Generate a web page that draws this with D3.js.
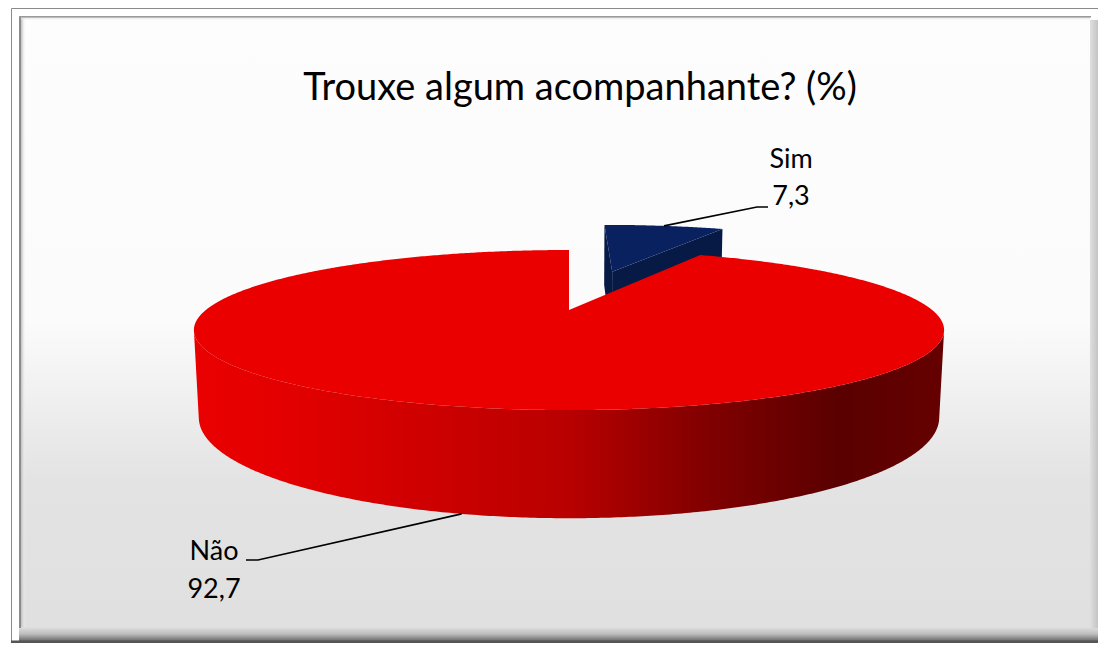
<!DOCTYPE html>
<html>
<head>
<meta charset="utf-8">
<script src="https://cdn.jsdelivr.net/npm/d3@7"></script>
<style>
  body { margin: 0; background: #fff; }
  svg { display: block; }
</style>
</head>
<body>
<div id="chart"></div>
<script>
// data
const categories = ["Sim", "Não"];
const values = [7.3, 92.7];
const valueLabels = ["7,3", "92,7"];
const explode = [0.6, 0];
const chartTitle = "Trouxe algum acompanhante? (%)";

const W = 1098, H = 646;

const svg = d3.select("#chart").append("svg")
    .attr("width", W)
    .attr("height", H);
const defs = svg.append("defs");

function vGrad(id, stops, x1, y1, x2, y2) {
    const g = defs.append("linearGradient").attr("id", id)
        .attr("gradientUnits", "userSpaceOnUse")
        .attr("x1", x1).attr("y1", y1).attr("x2", x2).attr("y2", y2);
    stops.forEach(s => g.append("stop").attr("offset", s[0]).attr("stop-color", s[1]).attr("stop-opacity", s[2] == null ? 1 : s[2]));
}

// ---- frame / background ----
vGrad("bg", [[0, "#fdfdfd"], [0.5, "#fbfbfb"], [0.76, "#e3e3e3"], [1, "#e0e0e0"]], 0, 16, 0, 628);
vGrad("bevelBottom", [[0, "#e0e0e0"], [0.5, "#bdbdbd"], [1, "#6a6a6a"]], 0, 627, 0, 641);
vGrad("bevelRight", [[0, "#e2e2e2"], [1, "#c4c4c4"]], 1089, 0, 1098, 0);
vGrad("bevelLeft", [[0, "#bcbcbc"], [1, "#fdfdfd", 0]], 21, 0, 26, 0);
vGrad("bevelTop", [[0, "#d8d8d8"], [1, "#fdfdfd", 0]], 0, 17, 0, 21);

svg.append("rect").attr("x", 19).attr("y", 16).attr("width", 1079).attr("height", 612).attr("fill", "url(#bg)");
svg.append("rect").attr("x", 19).attr("y", 627).attr("width", 1079).attr("height", 14).attr("fill", "url(#bevelBottom)");
svg.append("rect").attr("x", 1090).attr("y", 20).attr("width", 8).attr("height", 608).attr("fill", "url(#bevelRight)");
svg.append("rect").attr("x", 21).attr("y", 17).attr("width", 5).attr("height", 610).attr("fill", "url(#bevelLeft)");
svg.append("rect").attr("x", 21).attr("y", 17).attr("width", 1069).attr("height", 4).attr("fill", "url(#bevelTop)");
svg.append("rect").attr("x", 19).attr("y", 16).attr("width", 2).attr("height", 612).attr("fill", "#8c8c8c");
svg.append("rect").attr("x", 19).attr("y", 16).attr("width", 1072).attr("height", 1.5).attr("fill", "#9a9a9a");

// outer thin border
svg.append("path")
    .attr("d", "M1098,8.5H11.5V642")
    .attr("fill", "none").attr("stroke", "#8a8a8a").attr("stroke-width", 1);
svg.append("rect").attr("x", 11).attr("y", 640.5).attr("width", 1087).attr("height", 2.5).attr("fill", "#555");

// ---- title ----
svg.append("text")
    .attr("x", 580).attr("y", 100)
    .attr("text-anchor", "middle")
    .style("font-family", "Lato, 'Open Sans', sans-serif")
    .style("font-size", "38px")
    .attr("fill", "#000")
    .text(chartTitle);

// ---- 3d pie ----
// x right, z to the back, y up; radius = 1
const view = { cx: 569, cy: 310, f: 1420, tilt: Math.asin(0.2066), dist: 3.91, depth: 0.2355 };
const sa = Math.sin(view.tilt), ca = Math.cos(view.tilt);
const camZ = -view.dist * ca;

function project(x, z, y) {
    const w = view.dist + z * ca - y * sa;
    const v = z * sa + y * ca;
    return [view.cx + view.f * x / w, view.cy - view.f * v / w];
}

const topColor = ["#0a2160", "#eb0000"];
const faceColor = ["#061a45", "#a00000"];
const sideStops = [
    [[0, "#0a2160"], [1, "#041233"]],
    [[0, "#ea0000"], [0.12, "#e40000"], [0.5, "#b90000"], [0.68, "#820000"], [0.86, "#5a0000"], [1, "#660000"]]
];
sideStops.forEach((s, i) => vGrad("side" + i, s, 192, 0, 944, 0));

const pie = d3.pie().sort(null).value(d => d);
const arcs = pie(values).map((a, i) => {
    const mid = (a.startAngle + a.endAngle) / 2;
    return {
        i: i, a0: a.startAngle, a1: a.endAngle, mid: mid,
        ox: explode[i] * Math.sin(mid),
        oz: explode[i] * Math.cos(mid)
    };
});

const line = d3.line();

function rimPts(s, y, a0, a1) {
    const n = Math.max(2, Math.ceil((a1 - a0) / (Math.PI / 360)));
    return d3.range(n + 1).map(k => {
        const a = a0 + (a1 - a0) * k / n;
        return project(s.ox + Math.sin(a), s.oz + Math.cos(a), y);
    });
}

function sideVisible(s, a) {
    const px = s.ox + Math.sin(a), pz = s.oz + Math.cos(a);
    return (0 - px) * Math.sin(a) + (camZ - pz) * Math.cos(a) > 0;
}

// far slices first
const order = arcs.slice().sort((p, q) => (q.oz + Math.cos(q.mid)) - (p.oz + Math.cos(p.mid)));

const pieG = svg.append("g");
order.forEach(s => {
    const g = pieG.append("g");
    const hb = -view.depth;

    // radial cut faces
    [[s.a0, -Math.cos(s.a0), Math.sin(s.a0)], [s.a1, Math.cos(s.a1), -Math.sin(s.a1)]].forEach(([a, nx, nz]) => {
        if ((0 - s.ox) * nx + (camZ - s.oz) * nz <= 1e-3) return;
        const pts = [
            project(s.ox, s.oz, 0),
            project(s.ox + Math.sin(a), s.oz + Math.cos(a), 0),
            project(s.ox + Math.sin(a), s.oz + Math.cos(a), hb),
            project(s.ox, s.oz, hb)
        ];
        g.append("path").attr("d", line(pts) + "Z").attr("fill", faceColor[s.i]);
    });

    // outer curved side, visible runs only
    const n = Math.max(2, Math.ceil((s.a1 - s.a0) / (Math.PI / 360)));
    let run = null;
    const runs = [];
    for (let k = 0; k <= n; k++) {
        const a = s.a0 + (s.a1 - s.a0) * k / n;
        if (sideVisible(s, a)) {
            if (!run) { run = [a, a]; runs.push(run); }
            run[1] = a;
        } else run = null;
    }
    runs.forEach(([b0, b1]) => {
        const up = rimPts(s, 0, b0, b1);
        const dn = rimPts(s, hb, b0, b1).reverse();
        g.append("path").attr("d", line(up.concat(dn)) + "Z").attr("fill", "url(#side" + s.i + ")");
    });

    // top
    const topPts = [project(s.ox, s.oz, 0)].concat(rimPts(s, 0, s.a0, s.a1));
    g.append("path").attr("d", line(topPts) + "Z").attr("fill", topColor[s.i]);
});

// ---- labels with leader lines ----
const labelLayout = [
    { x: 791, y1: 168, y2: 205, elbow: [[757, 207], [768, 207]], onTop: true },
    { x: 214, y1: 560, y2: 598, elbow: [[258, 560], [246, 560]], onTop: false }
];

arcs.forEach(s => {
    const L = labelLayout[s.i];
    const y = L.onTop ? 0 : -view.depth;
    const anchor = project(s.ox + Math.sin(s.mid), s.oz + Math.cos(s.mid), y);
    svg.append("path")
        .attr("d", line([anchor].concat(L.elbow)))
        .attr("fill", "none").attr("stroke", "#000").attr("stroke-width", 1.6);
    const t = svg.append("text")
        .attr("text-anchor", "middle")
        .style("font-family", "Lato, 'Open Sans', sans-serif")
        .style("font-size", "27px")
        .attr("fill", "#000");
    t.append("tspan").attr("x", L.x).attr("y", L.y1).text(categories[s.i]);
    t.append("tspan").attr("x", L.x).attr("y", L.y2).text(valueLabels[s.i]);
});
</script>
</body>
</html>
